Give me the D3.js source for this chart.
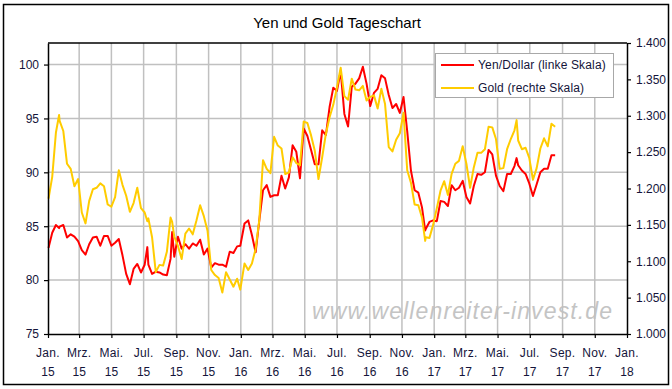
<!DOCTYPE html>
<html><head><meta charset="utf-8">
<script src="https://cdn.jsdelivr.net/npm/d3@7"></script>
<style>
body{margin:0;background:#fff}
svg{display:block}
text{font-family:"Liberation Sans",Arial,sans-serif}
</style>
</head><body>
<svg id="chart" width="672" height="389"></svg>
<script>
// ---- data (weekly readings, plus a few intra-week extremes) ----
const dates = [
"2015-01-02","2015-01-09","2015-01-16","2015-01-22","2015-01-23","2015-01-30",
"2015-02-06","2015-02-13","2015-02-20","2015-02-27",
"2015-03-06","2015-03-13","2015-03-20","2015-03-27",
"2015-04-03","2015-04-10","2015-04-17","2015-04-24",
"2015-05-01","2015-05-08","2015-05-15","2015-05-22","2015-05-29",
"2015-06-05","2015-06-12","2015-06-19","2015-06-26",
"2015-07-03","2015-07-08","2015-07-10","2015-07-17","2015-07-24","2015-07-31",
"2015-08-07","2015-08-14","2015-08-21","2015-08-24","2015-08-28",
"2015-09-04","2015-09-11","2015-09-18","2015-09-25",
"2015-10-02","2015-10-09","2015-10-16","2015-10-23","2015-10-30",
"2015-11-06","2015-11-13","2015-11-20","2015-11-27",
"2015-12-04","2015-12-11","2015-12-18","2015-12-25","2015-12-31",
"2016-01-08","2016-01-15","2016-01-22","2016-01-29",
"2016-02-05","2016-02-12","2016-02-19","2016-02-26",
"2016-03-04","2016-03-11","2016-03-18","2016-03-25",
"2016-04-01","2016-04-08","2016-04-15","2016-04-22","2016-04-29",
"2016-05-06","2016-05-13","2016-05-20","2016-05-27",
"2016-06-03","2016-06-10","2016-06-17","2016-06-24",
"2016-07-01","2016-07-08","2016-07-15","2016-07-22","2016-07-29",
"2016-08-05","2016-08-12","2016-08-19","2016-08-26",
"2016-09-02","2016-09-09","2016-09-16","2016-09-23","2016-09-30",
"2016-10-07","2016-10-14","2016-10-21","2016-10-28",
"2016-11-04","2016-11-11","2016-11-18","2016-11-25",
"2016-12-02","2016-12-09","2016-12-15","2016-12-16","2016-12-23","2016-12-30",
"2017-01-06","2017-01-13","2017-01-20","2017-01-27",
"2017-02-03","2017-02-10","2017-02-17","2017-02-24",
"2017-03-03","2017-03-10","2017-03-17","2017-03-24","2017-03-31",
"2017-04-07","2017-04-14","2017-04-21","2017-04-28",
"2017-05-05","2017-05-12","2017-05-19","2017-05-26",
"2017-06-02","2017-06-06","2017-06-09","2017-06-16","2017-06-23","2017-06-30",
"2017-07-07","2017-07-14","2017-07-21","2017-07-28",
"2017-08-04","2017-08-11","2017-08-18"
];
const yenDollar = [
82.99,84.39,85.11,84.82,84.96,85.11,
83.96,84.25,84.03,83.61,
82.78,82.37,83.33,83.96,
84.03,83.19,84.10,84.10,
83.19,83.47,83.82,82.30,80.58,
79.62,81.04,81.50,80.71,
81.43,83.06,81.43,80.58,80.78,80.71,
80.52,80.45,81.97,84.46,82.17,
84.03,82.92,83.33,82.92,
83.40,83.19,83.75,82.37,82.92,
81.17,81.57,81.43,81.43,
81.24,82.64,82.51,83.13,83.19,
85.25,85.54,84.18,82.58,
85.54,88.34,88.81,87.72,
87.87,87.87,89.69,88.50,
89.53,92.51,91.91,89.45,94.07,
93.37,92.08,90.74,90.74,
93.90,93.46,96.06,97.85,
97.56,99.40,95.42,94.25,97.94,
98.23,98.72,99.80,98.23,
96.15,97.37,97.75,99.01,98.72,
97.18,95.97,96.34,95.51,
96.99,93.81,90.17,88.34,
88.11,86.73,84.60,84.75,85.40,85.54,
85.47,87.34,87.26,86.88,
88.81,88.34,88.57,89.21,
87.72,87.11,88.73,89.85,89.77,
90.01,92.08,91.66,89.69,
88.73,88.26,89.85,89.85,
90.58,91.32,90.66,90.17,89.85,88.97,
87.80,88.89,90.01,90.33,
90.33,91.58,91.58
];
const gold = [
1186,1216,1277,1301,1293,1279,
1234,1227,1203,1213,
1167,1152,1183,1199,
1201,1207,1203,1178,
1175,1188,1225,1205,1190,
1168,1180,1201,1173,
1167,1155,1159,1133,1085,1095,
1094,1113,1160,1154,1134,
1121,1103,1138,1145,
1137,1156,1177,1162,1142,
1088,1081,1077,1057,
1085,1075,1065,1076,1061,
1097,1088,1097,1117,
1157,1239,1227,1221,
1271,1259,1255,1220,
1222,1243,1235,1232,1292,
1290,1273,1252,1213,
1243,1275,1298,1315,
1339,1366,1327,1322,1351,
1336,1335,1341,1321,
1326,1328,1310,1337,1316,
1257,1251,1267,1276,
1304,1225,1208,1178,
1177,1160,1128,1133,1132,1150,
1173,1197,1210,1191,
1220,1234,1238,1258,
1234,1201,1229,1249,1249,
1254,1285,1284,1268,
1227,1228,1254,1268,
1280,1294,1266,1254,1256,1242,
1212,1228,1255,1269,
1258,1289,1285
];
const leftTicks = [75,80,85,90,95,100];
const rightTicks = [1000,1050,1100,1150,1200,1250,1300,1350,1400];
const monthLabels = {0:"Jan.",2:"Mrz.",4:"Mai.",6:"Jul.",8:"Sep.",10:"Nov."};
const titleText = "Yen und Gold Tageschart";
const seriesNames = ["Yen/Dollar (linke Skala)","Gold (rechte Skala)"];
const watermarkText = "www.wellenreiter-invest.de";

// ---- layout ----
const L = 48, R = 627, T = 43, B = 334;
const textCol = "#14143a";
const svg = d3.select("#chart");
const parse = d3.timeParse("%Y-%m-%d");
const xDates = dates.map(parse);

const x = d3.scaleTime().domain([new Date(2015,0,1), new Date(2018,0,1)]).range([L, R]);
const yL = d3.scaleLinear().domain([75, 102]).range([B, T]);
const yR = d3.scaleLinear().domain([1000, 1400]).range([B, T]);
const xTicks = d3.timeMonth.every(2).range(new Date(2015,0,1), new Date(2018,0,2));

const de = d3.formatLocale({decimal:",", thousands:".", grouping:[3], currency:["","€"]});

// outer frame
svg.append("rect").attr("x",3.5).attr("y",4.5).attr("width",665).attr("height",380)
  .attr("fill","#fff").attr("stroke","#000").attr("stroke-width",1.5);

// title
svg.append("text").attr("x",337).attr("y",28).attr("text-anchor","middle")
  .attr("font-size",15).attr("fill","#000").text(titleText);

// watermark
svg.append("text").attr("x",312).attr("y",319)
  .attr("font-size",23).attr("font-style","italic").attr("fill","#c4c4c4")
  .attr("textLength",300).attr("lengthAdjust","spacing")
  .text(watermarkText);

// gridlines
const grid = svg.append("g").attr("stroke","#c0c0c0").attr("stroke-width",1.5);
grid.selectAll("line.h").data(leftTicks.slice(1)).join("line")
  .attr("x1",L).attr("x2",R).attr("y1",d=>yL(d)).attr("y2",d=>yL(d));
grid.selectAll("line.v").data(xTicks.slice(1, -1)).join("line")
  .attr("x1",d=>x(d)).attr("x2",d=>x(d)).attr("y1",T).attr("y2",B);

// top border of plot
svg.append("line").attr("x1",L).attr("x2",R).attr("y1",T).attr("y2",T)
  .attr("stroke","#000").attr("stroke-width",1.5);

// series
const lineYen = d3.line().x((d,i)=>x(xDates[i])).y(d=>yL(d));
const lineGold = d3.line().x((d,i)=>x(xDates[i])).y(d=>yR(d));
svg.append("path").datum(yenDollar).attr("d",lineYen)
  .attr("fill","none").attr("stroke","#ff0000").attr("stroke-width",2).attr("stroke-linejoin","round");
svg.append("path").datum(gold).attr("d",lineGold)
  .attr("fill","none").attr("stroke","#ffcc00").attr("stroke-width",2).attr("stroke-linejoin","round");

// axes
function styleAxis(g){
  g.select(".domain").attr("stroke","#000").attr("stroke-width",1.5);
  g.selectAll(".tick line").attr("stroke","#000").attr("stroke-width",1.2);
  g.selectAll("text").attr("font-size",12).attr("fill",textCol)
    .attr("font-family","'Liberation Sans',Arial,sans-serif");
}
svg.append("g").attr("transform",`translate(${L},0)`)
  .call(d3.axisLeft(yL).tickValues(leftTicks).tickSize(4).tickSizeOuter(0).tickPadding(5).tickFormat(d3.format("d")))
  .call(styleAxis);
svg.append("g").attr("transform",`translate(${R},0)`)
  .call(d3.axisRight(yR).tickValues(rightTicks).tickSize(4).tickSizeOuter(0).tickPadding(5).tickFormat(de.format(",")))
  .call(styleAxis);
svg.append("g").attr("transform",`translate(0,${B})`)
  .call(d3.axisBottom(x).tickValues(xTicks).tickSize(4).tickSizeOuter(0).tickFormat(""))
  .call(styleAxis);

// two-line month labels
const lab = svg.append("g").attr("font-size",12).attr("fill",textCol).attr("text-anchor","middle");
lab.selectAll("text.m").data(xTicks).join("text").attr("class","m")
  .attr("x",d=>x(d)).attr("y",357).attr("letter-spacing",0.3)
  .text(d=>monthLabels[d.getMonth()]);
lab.selectAll("text.yr").data(xTicks).join("text").attr("class","yr")
  .attr("x",d=>x(d)).attr("y",376)
  .text(d=>d3.timeFormat("%y")(d));

// legend
const lg = svg.append("g");
lg.append("rect").attr("x",435.5).attr("y",53.5).attr("width",178).attr("height",44)
  .attr("fill","#fff").attr("stroke","#a8a8a8").attr("stroke-width",1);
const legendColors = ["#ff0000","#ffcc00"];
seriesNames.forEach((name,i)=>{
  const yy = 65 + i*23;
  lg.append("line").attr("x1",441).attr("x2",474).attr("y1",yy).attr("y2",yy)
    .attr("stroke",legendColors[i]).attr("stroke-width",2);
  lg.append("text").attr("x",478).attr("y",yy+4).attr("font-size",12)
    .attr("letter-spacing",0.15).attr("fill",textCol).text(name);
});
</script>
</body></html>
